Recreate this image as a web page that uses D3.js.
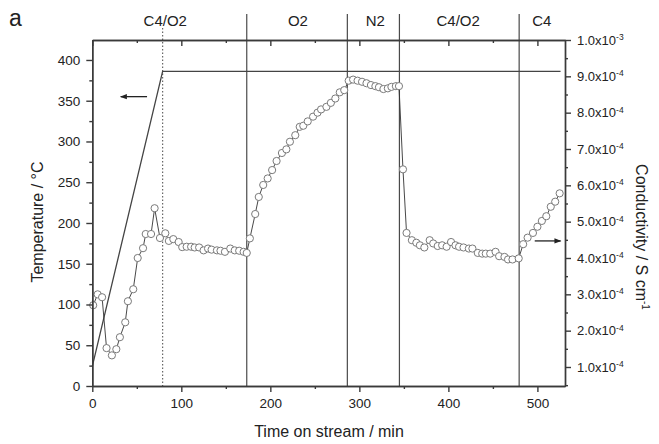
<!DOCTYPE html>
<html>
<head>
<meta charset="utf-8">
<script src="https://cdn.jsdelivr.net/npm/d3@7"></script>
<style>
  body { margin: 0; background: #fff; }
  text { font-family: "Liberation Sans", Arial, sans-serif; fill: #222; }
</style>
</head>
<body>
<script>
var width = 659, height = 444;
var margin = { left: 92.3, right: 94, top: 40, bottom: 58 };

// conductivity measurements (time in min, value in 1e-4 S/cm)
var cond_time = [1, 6, 11, 16, 22, 27, 31, 37, 40, 46, 51, 57, 60, 66, 70, 76, 82, 86, 91, 97, 101,
  106, 111, 115, 120, 125, 130, 134, 140, 144, 149, 155, 160, 165, 170, 173.5,
  177, 183, 187, 192, 197, 202, 207, 213, 218, 222, 228, 233, 237, 242, 248, 253, 257, 263, 268,
  273, 278, 283, 288, 293, 298, 303, 308, 313, 318, 322, 327, 332, 336, 341, 344.5,
  349, 353, 359, 364, 368, 373, 379, 383, 388, 393, 398, 403, 408, 412, 417, 423, 427, 433, 438,
  442, 447, 453, 457, 463, 467, 472, 479,
  484, 489, 495, 500, 505, 510, 515, 520, 525];
var cond_e4 = [2.70, 3.00, 2.92, 1.52, 1.32, 1.49, 1.82, 2.23, 2.81, 3.14, 4.00, 4.27, 4.66, 4.66, 5.37, 4.55, 4.68, 4.47, 4.52, 4.44, 4.30,
  4.31, 4.31, 4.29, 4.29, 4.21, 4.26, 4.23, 4.21, 4.20, 4.17, 4.26, 4.21, 4.20, 4.17, 4.14,
  4.54, 5.21, 5.68, 6.01, 6.19, 6.42, 6.67, 6.89, 6.99, 7.20, 7.38, 7.61, 7.64, 7.76, 7.89, 8.00, 8.09, 8.16, 8.27,
  8.39, 8.56, 8.62, 8.88, 8.91, 8.88, 8.85, 8.81, 8.76, 8.73, 8.70, 8.65, 8.67, 8.71, 8.73, 8.73,
  6.44, 4.69, 4.49, 4.42, 4.35, 4.29, 4.49, 4.40, 4.33, 4.35, 4.31, 4.44, 4.35, 4.31, 4.29, 4.26, 4.26, 4.14, 4.12,
  4.12, 4.12, 4.17, 4.05, 4.03, 3.96, 3.96, 3.99,
  4.38, 4.56, 4.69, 4.86, 5.02, 5.15, 5.41, 5.55, 5.78];

// temperature programme (min, degC)
var temp_time = [0, 79, 526];
var temp_value = [24, 386, 386];

// gas switching
var switch_times = [173.5, 286.5, 345, 479.5];
var dotted_time = 79;
var gas_labels = ["C4/O2", "O2", "N2", "C4/O2", "C4"];
var gas_label_time = [82, 231, 318, 411, 505];

var x_major = [0, 100, 200, 300, 400, 500];
var x_minor = [50, 150, 250, 350, 450];
var t_major = [0, 50, 100, 150, 200, 250, 300, 350, 400];
var t_minor = [25, 75, 125, 175, 225, 275, 325, 375];
var c_major = [1, 2, 3, 4, 5, 6, 7, 8, 9, 10];
var c_minor = [0.5, 1.5, 2.5, 3.5, 4.5, 5.5, 6.5, 7.5, 8.5, 9.5];

var axis_col = "#3a3a3a";

var svg = d3.select("body").append("svg")
  .attr("width", width).attr("height", height);

var x = d3.scaleLinear().domain([0, 531]).range([margin.left, width - margin.right]);
var yT = d3.scaleLinear().domain([0, 424.5]).range([height - margin.bottom, margin.top]);
var yC = d3.scaleLinear().domain([0.477, 10]).range([height - margin.bottom, margin.top]);
var y0 = height - margin.bottom, y1 = margin.top;

// gas switch lines
svg.selectAll("line.sw").data(switch_times).enter().append("line")
  .attr("x1", function(d) { return x(d); }).attr("x2", function(d) { return x(d); })
  .attr("y1", 14).attr("y2", y0)
  .attr("stroke", "#4a4a4a").attr("stroke-width", 1.2);
svg.append("line")
  .attr("x1", x(dotted_time)).attr("x2", x(dotted_time))
  .attr("y1", 28).attr("y2", y0)
  .attr("stroke", "#666").attr("stroke-width", 1.2).attr("stroke-dasharray", "1.5,2");

svg.selectAll("text.gas").data(gas_labels).enter().append("text")
  .attr("x", function(d, i) { return x(gas_label_time[i]); }).attr("y", 26)
  .attr("text-anchor", "middle").attr("font-size", 15)
  .text(function(d) { return d; });

// temperature line
var tline = d3.line()
  .x(function(d, i) { return x(temp_time[i]); })
  .y(function(d) { return yT(d); });
svg.append("path").datum(temp_value)
  .attr("d", tline).attr("fill", "none")
  .attr("stroke", "#444").attr("stroke-width", 1.3);

// conductivity
var cline = d3.line()
  .x(function(d, i) { return x(cond_time[i]); })
  .y(function(d) { return yC(d); });
svg.append("path").datum(cond_e4)
  .attr("d", cline).attr("fill", "none")
  .attr("stroke", "#333").attr("stroke-width", 0.9);
svg.selectAll("circle").data(cond_e4).enter().append("circle")
  .attr("cx", function(d, i) { return x(cond_time[i]); })
  .attr("cy", function(d) { return yC(d); })
  .attr("r", 3.6)
  .attr("fill", "#fff").attr("stroke", "#7a7a7a").attr("stroke-width", 1);

// axes
function style_axis(g) {
  g.selectAll("path, line").attr("stroke", axis_col).attr("stroke-width", 1.4);
  g.selectAll("text").attr("font-size", 13.5).attr("fill", "#222")
    .attr("font-family", "Liberation Sans, Arial, sans-serif");
}
var gx = svg.append("g").attr("transform", "translate(0," + y0 + ")")
  .call(d3.axisBottom(x).tickValues(x_major).tickSize(6).tickPadding(6).tickSizeOuter(0));
gx.append("g").call(d3.axisBottom(x).tickValues(x_minor).tickSize(3).tickFormat("").tickSizeOuter(0));
style_axis(gx);

var gtop = svg.append("g").attr("transform", "translate(0," + y1 + ")")
  .call(d3.axisTop(x).tickValues(x_major).tickSize(-6).tickFormat("").tickSizeOuter(0));
gtop.append("g").call(d3.axisTop(x).tickValues(x_minor).tickSize(-3).tickFormat("").tickSizeOuter(0));
style_axis(gtop);

var gl = svg.append("g").attr("transform", "translate(" + margin.left + ",0)")
  .call(d3.axisLeft(yT).tickValues(t_major).tickSize(6).tickPadding(6).tickSizeOuter(0));
gl.append("g").call(d3.axisLeft(yT).tickValues(t_minor).tickSize(3).tickFormat("").tickSizeOuter(0));
style_axis(gl);

var gr = svg.append("g").attr("transform", "translate(" + (width - margin.right) + ",0)")
  .call(d3.axisRight(yC).tickValues(c_major).tickSize(6).tickPadding(6).tickSizeOuter(0)
    .tickFormat(function() { return ""; }));
gr.append("g").call(d3.axisRight(yC).tickValues(c_minor).tickSize(3).tickFormat("").tickSizeOuter(0));
style_axis(gr);
gr.selectAll(":scope > .tick text").each(function(d) {
  var t = d3.select(this);
  var base = d === 10 ? "1.0x10" : d.toFixed(1) + "x10";
  var ex = d === 10 ? "-3" : "-4";
  t.text(null).attr("font-size", 13);
  t.append("tspan").text(base);
  t.append("tspan").attr("font-size", 8.5).attr("dy", "-0.55em").text(ex);
});

// arrows
function arrow(xa, xb, y, head) {
  svg.append("line").attr("x1", xa).attr("x2", xb).attr("y1", y).attr("y2", y)
    .attr("stroke", "#222").attr("stroke-width", 1.3);
  var dir = head < xa ? -1 : 1;
  svg.append("path")
    .attr("d", "M" + head + "," + y + "L" + (head - dir * 7) + "," + (y - 2.6) +
      "L" + (head - dir * 7) + "," + (y + 2.6) + "Z")
    .attr("fill", "#222");
}
arrow(x(61.5), x(32), yT(355), x(31));
arrow(x(497), x(526), yC(4.47), x(527));

// titles
svg.append("text").attr("x", 329).attr("y", 437).attr("text-anchor", "middle")
  .attr("font-size", 16).text("Time on stream / min");
svg.append("text").attr("transform", "translate(43,222) rotate(-90)")
  .attr("text-anchor", "middle").attr("font-size", 16).text("Temperature / °C");
var rt = svg.append("text").attr("transform", "translate(636,237) rotate(90)")
  .attr("text-anchor", "middle").attr("font-size", 16);
rt.append("tspan").text("Conductivity / S cm");
rt.append("tspan").attr("font-size", 10).attr("dy", "-0.6em").text("-1");
svg.append("text").attr("x", 9).attr("y", 26).attr("font-size", 23).text("a");
</script>
</body>
</html>
